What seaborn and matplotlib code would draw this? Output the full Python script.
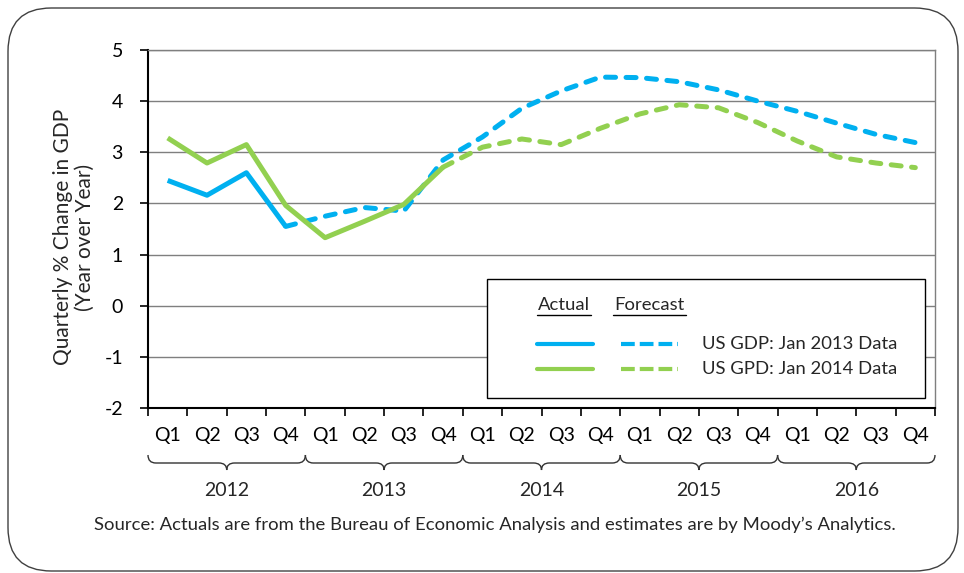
#%% Modules
import numpy as np
import pandas as pd
import matplotlib
matplotlib.use("Agg")
import matplotlib.pyplot as plt
import seaborn as sns
from matplotlib.patches import FancyBboxPatch, PathPatch, Rectangle
from matplotlib.path import Path
from matplotlib.lines import Line2D
import matplotlib.transforms as mtransforms

#%% Data
years = ["2012", "2013", "2014", "2015", "2016"]
quarters = ["Q1", "Q2", "Q3", "Q4"]
tick_labels = quarters * len(years)

# US GDP: Jan 2013 data -> actual Q1 2012 .. Q4 2012, forecast Q4 2012 .. Q4 2016
gdp13_actual = [2.45, 2.16, 2.60, 1.55]
gdp13_forecast = [1.55, 1.75, 1.92, 1.85, 2.85, 3.30, 3.86, 4.20, 4.47,
                  4.46, 4.38, 4.22, 4.00, 3.80, 3.57, 3.35, 3.19]

# US GPD: Jan 2014 data -> actual Q1 2012 .. Q4 2013, forecast Q4 2013 .. Q4 2016
gdp14_actual = [3.28, 2.79, 3.15, 1.96, 1.33, 1.65, 1.98, 2.71]
gdp14_forecast = [2.71, 3.10, 3.26, 3.15, 3.47, 3.75, 3.93, 3.87, 3.58,
                  3.22, 2.91, 2.79, 2.70]

blue = "#00B0F0"
green = "#92D050"

#%% Setup
sns.set_theme(style="white")
plt.rcParams["font.family"] = ["Lato", "DejaVu Sans"]
plt.rcParams["axes.unicode_minus"] = False

W, H = 964, 573
fig = plt.figure(figsize=(W / 100, H / 100), dpi=100)
ax = fig.add_axes([148 / W, 1 - 408 / H, 787 / W, 358 / H])

def px_to_axes(px, py):
    return (px - 148) / 787, (408 - py) / 358

# rounded frame around the whole picture
frame = FancyBboxPatch((8 / W, 2 / H), 950 / W, 563 / H,
                       boxstyle="round,pad=0,rounding_size=0.045",
                       transform=fig.transFigure, facecolor="none",
                       edgecolor="#404040", linewidth=1.0,
                       mutation_aspect=W / H)
fig.patches.append(frame)

#%% Lines
n13 = len(gdp13_actual)
n14 = len(gdp14_actual)
x_all = np.arange(len(tick_labels))

lw = 3.6
dash = (2.0, 2.1)

sns.lineplot(x=x_all[:n13], y=gdp13_actual, color=blue, lw=lw, ax=ax)
sns.lineplot(x=x_all[n13 - 1:], y=gdp13_forecast, color=blue, lw=lw, ax=ax)
ax.lines[-1].set_dashes(dash)
sns.lineplot(x=x_all[:n14], y=gdp14_actual, color=green, lw=lw, ax=ax)
sns.lineplot(x=x_all[n14 - 1:], y=gdp14_forecast, color=green, lw=lw, ax=ax)
ax.lines[-1].set_dashes(dash)

for line in ax.lines:
    line.set_solid_joinstyle("round")
    line.set_solid_capstyle("butt")
    line.set_dash_capstyle("round")
    line.set_dash_joinstyle("round")

#%% Axes styling
tick_fs = 14
ax.set_xlim(-0.5, len(tick_labels) - 0.5)
ax.set_ylim(-2, 5)
ax.set_yticks(range(-2, 6))
ax.set_xticks(x_all)
ax.set_xticklabels(tick_labels)
ax.set_xticks(np.arange(-0.5, len(tick_labels)), minor=True)
ax.tick_params(axis="x", which="major", length=0, pad=14, labelsize=tick_fs,
               colors="black")
ax.tick_params(axis="x", which="minor", length=6, width=1.2, direction="out",
               color="black", bottom=True)
ax.tick_params(axis="y", length=6, width=1.2, direction="out", left=True,
               pad=12, labelsize=tick_fs, colors="black")
ax.set_xlabel("")
ax.set_ylabel("")

ax.grid(axis="y", color="#7f7f7f", lw=1.0)
ax.grid(axis="x", visible=False)
ax.set_axisbelow(True)
for side in ["left", "bottom"]:
    ax.spines[side].set_color("black")
    ax.spines[side].set_linewidth(1.5)
for side in ["top", "right"]:
    ax.spines[side].set_color("#7f7f7f")
    ax.spines[side].set_linewidth(1.0)

fig.text(74 / W, 1 - 237 / H, "Quarterly % Change in GDP\n(Year over Year)",
         rotation=90, ha="center", va="center", fontsize=15,
         multialignment="center", linespacing=1.1)

#%% Year braces
trans = mtransforms.blended_transform_factory(ax.transData, ax.transAxes)
y_top = px_to_axes(0, 455)[1]
y_mid = px_to_axes(0, 463)[1]
y_tip = px_to_axes(0, 470)[1]
for i, year in enumerate(years):
    x0 = i * 4 - 0.5
    x1 = x0 + 4
    xc = (x0 + x1) / 2
    r = 0.2
    verts = [(x0, y_top), (x0, y_mid), (x0 + r, y_mid),
             (xc - r, y_mid),
             (xc, y_mid), (xc, y_tip),
             (xc, y_mid), (xc + r, y_mid),
             (x1 - r, y_mid),
             (x1, y_mid), (x1, y_top)]
    codes = [Path.MOVETO, Path.CURVE3, Path.CURVE3,
             Path.LINETO,
             Path.CURVE3, Path.CURVE3,
             Path.CURVE3, Path.CURVE3,
             Path.LINETO,
             Path.CURVE3, Path.CURVE3]
    brace = PathPatch(Path(verts, codes), transform=trans, facecolor="none",
                      edgecolor="#333333", lw=1.0, clip_on=False)
    ax.add_patch(brace)
    ax.text(xc, px_to_axes(0, 490)[1], year, transform=trans, ha="center",
            va="center", fontsize=tick_fs, clip_on=False)

#%% Legend box (drawn by hand: header row plus actual / forecast columns)
leg_fs = 13.3
bx0, by0 = px_to_axes(487, 398)
bx1, by1 = px_to_axes(925, 279)
ax.add_patch(Rectangle((bx0, by0), bx1 - bx0, by1 - by0, transform=ax.transAxes,
                       facecolor="white", edgecolor="black", lw=1.0,
                       zorder=5))
headers = [("Actual", 537, 591), ("Forecast", 613, 686)]
for text, hx0, hx1 in headers:
    ax.text(*px_to_axes((hx0 + hx1) / 2, 305), text, transform=ax.transAxes,
            ha="center", va="center", fontsize=leg_fs, zorder=6)
    ux0, uy = px_to_axes(hx0, 315)
    ux1, _ = px_to_axes(hx1, 315)
    ax.add_line(Line2D([ux0, ux1], [uy, uy], transform=ax.transAxes,
                       color="black", lw=1.0, zorder=6))
legend_rows = [(blue, 344, "US GDP: Jan 2013 Data"),
               (green, 369, "US GPD: Jan 2014 Data")]
for color, py, label in legend_rows:
    xa0, yy = px_to_axes(537, py)
    xa1, _ = px_to_axes(593, py)
    ax.add_line(Line2D([xa0, xa1], [yy, yy], transform=ax.transAxes,
                       color=color, lw=3.0, zorder=6))
    xf0, _ = px_to_axes(621, py)
    xf1, _ = px_to_axes(678, py)
    ax.add_line(Line2D([xf0, xf1], [yy, yy], transform=ax.transAxes,
                       color=color, lw=3.0, dashes=(3.3, 1.2), zorder=6))
    ax.text(px_to_axes(702, py)[0], yy, label, transform=ax.transAxes,
            ha="left", va="center", fontsize=leg_fs, zorder=6)

#%% Source
fig.text(495 / W, 1 - 525 / H,
         "Source: Actuals are from the Bureau of Economic Analysis and "
         "estimates are by Moody\u2019s Analytics.",
         ha="center", va="center", fontsize=13.3)

fig.savefig("out.png", dpi=100)
